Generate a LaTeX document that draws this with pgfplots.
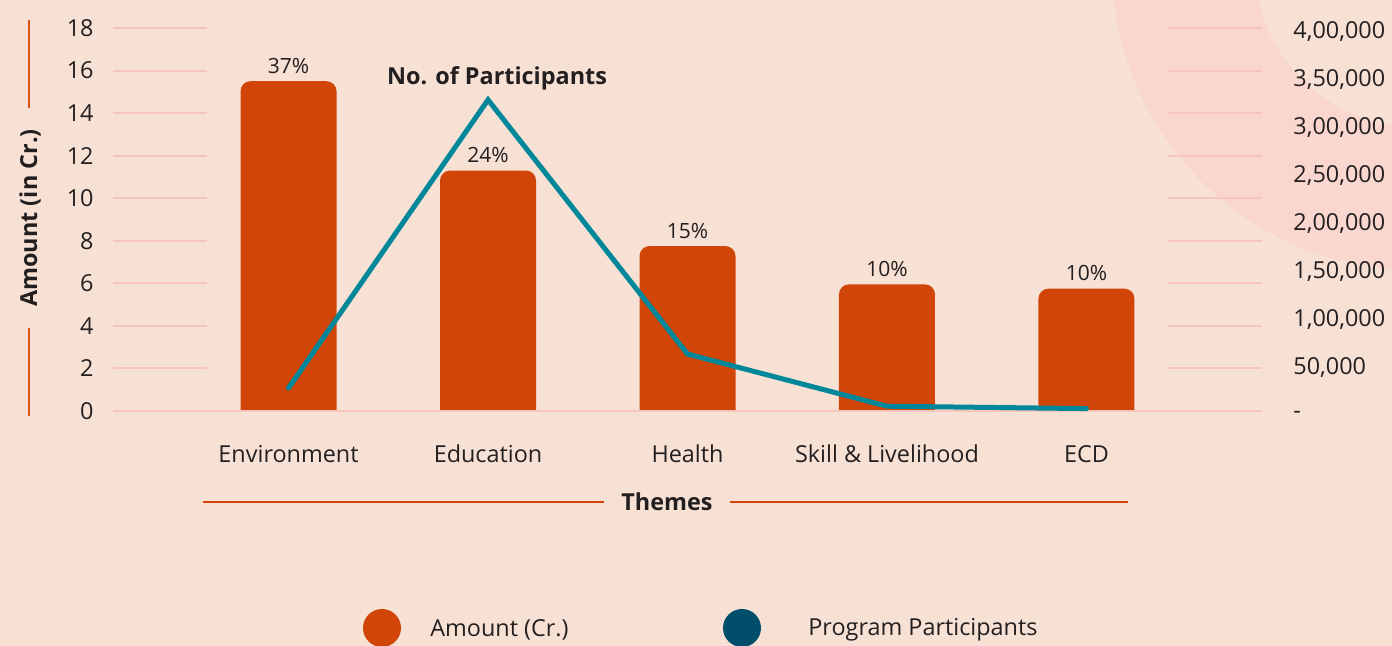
\documentclass[border=0pt]{standalone}
\usepackage{fontspec}
\setmainfont{Open Sans}
\usepackage{pgfplots}
\usepackage{pgfplotstable}
\pgfplotsset{compat=1.18}
\definecolor{bg}{HTML}{F7E1D4}
\definecolor{ringc}{HTML}{F9D6CE}
\definecolor{barc}{HTML}{D14508}
\definecolor{tealc}{HTML}{01879A}
\definecolor{dteal}{HTML}{004E6A}
\definecolor{gridc}{HTML}{F6C6BC}
\definecolor{txt}{HTML}{231F20}
\definecolor{accent}{HTML}{E0521A}

\pgfplotstableread{
x amt pct part
0 15.5 37 24000
1 11.3 24 325000
2 7.75 15 59500
3 5.95 10 5000
4 5.75 10 2500
}\data

\newcommand{\tfont}{\fontsize{11.7}{13}\selectfont}

\begin{document}
\begin{tikzpicture}
\useasboundingbox (0,0) rectangle (696pt,323pt);
\fill[bg] (0,0) rectangle (696pt,323pt);
\begin{scope}
\clip (0,0) rectangle (696pt,323pt);
\fill[ringc, even odd rule] (708pt,340pt) circle[radius=152pt] (708pt,340pt) circle[radius=80.5pt];
\end{scope}

% bars (stacked on an invisible -1 base so only the top corners show rounded)
\begin{axis}[at={(56.5pt,117.5pt)}, anchor=south west,
  scale only axis, width=574.5pt, height=191.5pt,
  xmin=-0.88, xmax=4.88, ymin=0, ymax=18, clip=true,
  hide axis, ybar stacked, stack negative=on previous, bar width=48pt]
\addplot[draw=none, fill=none] coordinates {(0,-1) (1,-1) (2,-1) (3,-1) (4,-1)};
\addplot[fill=barc, draw=none, rounded corners=5pt]
  table[x=x, y expr=\thisrow{amt}+1]{\data};
\end{axis}

% grid + left ticks + x labels + percentage labels
\begin{axis}[name=main, at={(56.5pt,117.5pt)}, anchor=south west,
  scale only axis, width=574.5pt, height=191.5pt,
  xmin=-0.88, xmax=4.88, ymin=0, ymax=18, clip=false,
  axis line style={draw=none}, major tick length=0pt,
  ytick={0,2,...,18}, xtick={0,1,2,3,4},
  xticklabels={Environment,Education,Health,{Skill \& Livelihood},ECD},
  tick label style={font=\tfont, text=txt},
  /pgf/number format/assume math mode=true,
  yticklabel style={anchor=east, inner sep=0pt, xshift=-9.5pt},
  xticklabel style={anchor=base, inner sep=0pt, yshift=-26pt}]
\pgfplotsinvokeforeach{2,4,...,18}{
  \draw[gridc, line width=1pt] (axis cs:-0.88,#1) -- (axis cs:-0.41,#1);
  \draw[gridc, line width=1pt] (axis cs:4.41,#1) -- (axis cs:4.88,#1);
}
\draw[gridc, line width=1pt] (axis cs:-0.88,0) -- (axis cs:4.88,0);
\addplot[draw=none, mark=none, point meta=explicit symbolic,
  nodes near coords={\pgfplotspointmeta\%},
  every node near coord/.append style={font=\fontsize{10.5}{12}\selectfont, text=txt, anchor=base, yshift=4pt}]
  table[x=x, y=amt, meta=pct]{\data};
\end{axis}

% line on secondary axis
\begin{axis}[at={(56.5pt,117.5pt)}, anchor=south west,
  scale only axis, width=574.5pt, height=191.5pt,
  xmin=-0.88, xmax=4.88, ymin=0, ymax=400000, clip=false,
  hide x axis, axis y line*=right, axis line style={draw=none},
  major tick length=0pt, scaled y ticks=false,
  ytick={0,50000,...,400000},
  yticklabels={-,{50,000},{1,00,000},{1,50,000},{2,00,000},{2,50,000},{3,00,000},{3,50,000},{4,00,000}},
  tick label style={font=\tfont, text=txt},
  yticklabel style={anchor=west, inner sep=0pt, xshift=15.5pt, yshift=-2pt}]
\addplot[tealc, line width=2.5pt, line join=miter, line cap=round, mark=none] table[x=x, y=part]{\data};
\end{axis}

% annotations and decorations
\node[font=\bfseries\tfont, text=txt] at (248.5pt,284pt) {No. of Participants};
\node[font=\bfseries\tfont, text=txt, rotate=90] at (15pt,214pt) {Amount (in Cr.)};
\draw[accent, line width=1pt] (14.5pt,313pt) -- (14.5pt,269pt);
\draw[accent, line width=1pt] (14.5pt,159pt) -- (14.5pt,115pt);
\node[font=\bfseries\tfont, text=txt] at (333.5pt,72pt) {Themes};
\draw[barc, line width=1pt] (101.5pt,72pt) -- (302pt,72pt);
\draw[barc, line width=1pt] (365pt,72pt) -- (564pt,72pt);

% legend
\fill[barc] (191pt,9pt) circle[radius=9.5pt];
\node[font=\tfont, text=txt, anchor=west, inner sep=0pt] at (215pt,8pt) {Amount (Cr.)};
\fill[dteal] (371pt,9pt) circle[radius=9.5pt];
\node[font=\tfont, text=txt, anchor=west, inner sep=0pt] at (404pt,8pt) {Program Participants};
\end{tikzpicture}
\end{document}
